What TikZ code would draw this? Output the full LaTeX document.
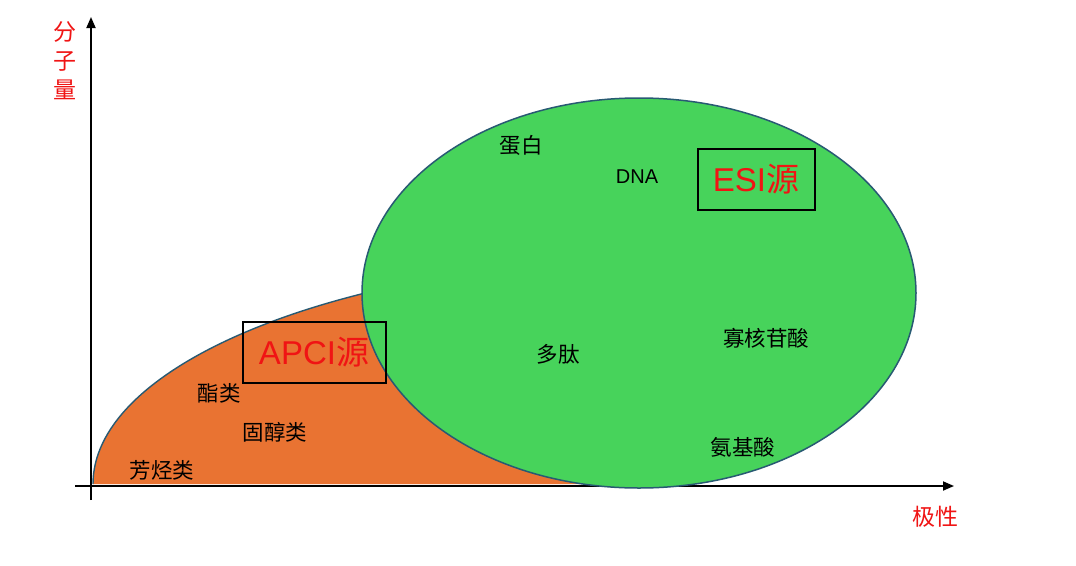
\documentclass[tikz,border=0pt]{standalone}
\usepackage{fontspec}
\setmainfont{Noto Sans CJK SC}
\newfontfamily\lat{Liberation Sans}
\usetikzlibrary{arrows.meta,shapes.geometric}
\definecolor{apcior}{RGB}{233,115,50}
\definecolor{esigr}{RGB}{71,211,91}
\definecolor{edgeblue}{RGB}{40,90,115}
\definecolor{lblred}{RGB}{240,20,20}
\begin{document}
\begin{tikzpicture}[x=1pt,y=-1pt,
  axis/.style={line width=1.8pt,-{Triangle[length=11pt,width=9pt]}},
  item/.style={font=\fontsize{21.5}{23}\selectfont, text=black, inner sep=0pt},
  srcbox/.style={draw=black, line width=2pt, inner sep=0pt, text=lblred,
     font=\fontsize{33}{36}\selectfont},
  axlbl/.style={text=lblred, font=\fontsize{23}{25}\selectfont, inner sep=0pt}]
\useasboundingbox (0,0) rectangle (1076,565);
\fill[white] (0,0) rectangle (1076,565);
% axes
\coordinate (ystart) at (91,500);
\coordinate (yend) at (91,17);
\coordinate (xstart) at (75,486);
\coordinate (xend) at (954,486);
\draw[axis] (ystart) -- (yend);
\draw[axis] (xstart) -- (xend);
% APCI region
\coordinate (o0) at (93,484);
\fill[apcior] (o0) arc[start angle=180, end angle=90, x radius=600pt, y radius=228pt]
   -- (640,484) -- cycle;
\draw[edgeblue, line width=1.4pt] (o0) arc[start angle=180, end angle=100, x radius=600pt, y radius=228pt];
% ESI ellipse
\node[ellipse, draw=edgeblue, fill=esigr, line width=1.5pt, inner sep=0pt,
      minimum width=554pt, minimum height=390pt] (esi) at (639,293) {};
% source boxes
\node[srcbox, minimum width=117pt, minimum height=61pt] (esibox) at (756,179) {{\lat ESI}源};
\node[srcbox, minimum width=143pt, minimum height=61pt] (apcibox) at (314,352) {{\lat APCI}源};
% labels
\node[item] (danbai) at (521,145) {蛋白};
\node[item, font=\lat\fontsize{20}{22}\selectfont] (dna) at (637,177) {DNA};
\node[item] (duotai) at (558,354) {多肽};
\node[item] (guahe) at (766,338) {寡核苷酸};
\node[item] (anji) at (743,447) {氨基酸};
\node[item] (zhi) at (219,393) {酯类};
\node[item] (guchun) at (275,432) {固醇类};
\node[item] (fangting) at (162,470) {芳烃类};
% axis labels
\node[axlbl] (fen) at (65,32) {分};
\node[axlbl] (zi) at (65,61) {子};
\node[axlbl] (liang) at (65,90) {量};
\node[axlbl] (jixing) at (935,517) {极性};
\end{tikzpicture}
\end{document}
